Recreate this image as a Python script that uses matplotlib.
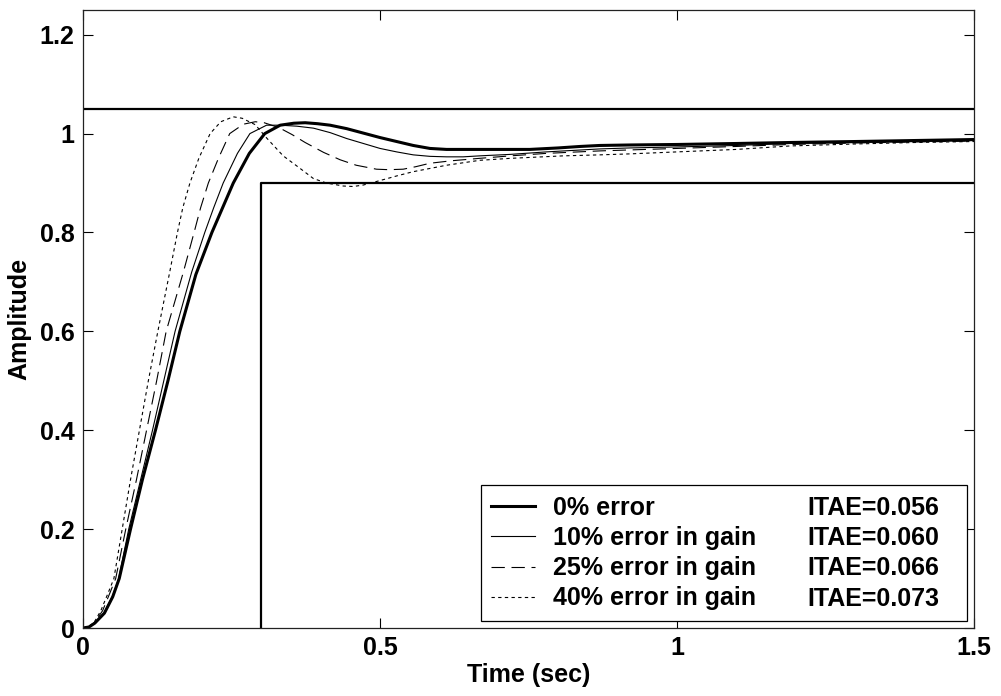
import matplotlib
matplotlib.use("Agg")
import matplotlib.pyplot as plt

# ---------------- data ----------------
t0 = [0, 0.01, 0.02, 0.036, 0.05, 0.061, 0.08, 0.10, 0.122, 0.143, 0.163, 0.19,
      0.217, 0.235, 0.253, 0.28, 0.306, 0.332, 0.355, 0.374, 0.395, 0.416, 0.444,
      0.472, 0.50, 0.528, 0.556, 0.584, 0.612, 0.640, 0.70, 0.752, 0.80, 0.837,
      0.87, 0.921, 1.0, 1.1, 1.19, 1.3, 1.4, 1.5]
y0 = [0, 0.002, 0.01, 0.03, 0.063, 0.10, 0.20, 0.30, 0.40, 0.50, 0.60, 0.715,
      0.80, 0.85, 0.90, 0.96, 1.00, 1.017, 1.021, 1.022, 1.020, 1.017, 1.010,
      1.001, 0.992, 0.984, 0.976, 0.970, 0.968, 0.968, 0.968, 0.968, 0.971, 0.974,
      0.976, 0.977, 0.978, 0.980, 0.982, 0.984, 0.986, 0.988]

t10 = [0, 0.01, 0.02, 0.035, 0.05, 0.06, 0.077, 0.097, 0.117, 0.136, 0.155, 0.183,
       0.205, 0.22, 0.236, 0.26, 0.281, 0.309, 0.332, 0.36, 0.388, 0.416, 0.444,
       0.472, 0.5, 0.528, 0.556, 0.584, 0.612, 0.64, 0.668, 0.72, 0.78, 0.87,
       0.921, 1.0, 1.1, 1.19, 1.3, 1.4, 1.5]
y10 = [0, 0.002, 0.01, 0.03, 0.065, 0.10, 0.20, 0.30, 0.40, 0.50, 0.60, 0.72,
       0.80, 0.85, 0.90, 0.96, 1.00, 1.017, 1.017, 1.015, 1.011, 1.002, 0.990,
       0.980, 0.970, 0.963, 0.957, 0.954, 0.953, 0.953, 0.955, 0.958, 0.963, 0.969,
       0.971, 0.973, 0.976, 0.980, 0.982, 0.984, 0.986]

t25 = [0, 0.01, 0.02, 0.033, 0.045, 0.055, 0.072, 0.09, 0.107, 0.124, 0.14, 0.169,
       0.187, 0.198, 0.211, 0.228, 0.247, 0.27, 0.29, 0.305, 0.33, 0.352, 0.374,
       0.405, 0.433, 0.46, 0.494, 0.515, 0.539, 0.56, 0.584, 0.62, 0.668, 0.72,
       0.78, 0.87, 0.921, 1.0, 1.1, 1.19, 1.3, 1.4, 1.5]
y25 = [0, 0.002, 0.012, 0.035, 0.07, 0.10, 0.20, 0.30, 0.40, 0.50, 0.60, 0.72,
       0.80, 0.85, 0.90, 0.95, 1.00, 1.019, 1.024, 1.022, 1.012, 0.998, 0.982,
       0.962, 0.947, 0.936, 0.928, 0.927, 0.928, 0.933, 0.940, 0.945, 0.950, 0.955,
       0.960, 0.965, 0.967, 0.970, 0.974, 0.978, 0.981, 0.983, 0.985]

t40 = [0, 0.01, 0.02, 0.03, 0.042, 0.052, 0.066, 0.08, 0.095, 0.11, 0.126, 0.146,
       0.159, 0.168, 0.18, 0.195, 0.214, 0.232, 0.253, 0.268, 0.29, 0.31, 0.337,
       0.365, 0.388, 0.41, 0.438, 0.455, 0.472, 0.506, 0.53, 0.556, 0.612, 0.668,
       0.72, 0.809, 0.87, 0.921, 1.0, 1.1, 1.19, 1.3, 1.4, 1.5]
y40 = [0, 0.003, 0.014, 0.035, 0.07, 0.10, 0.20, 0.30, 0.40, 0.50, 0.60, 0.72,
       0.80, 0.85, 0.90, 0.95, 1.00, 1.024, 1.034, 1.031, 1.018, 0.99, 0.955,
       0.93, 0.909, 0.90, 0.894, 0.893, 0.896, 0.907, 0.915, 0.923, 0.936, 0.946,
       0.950, 0.955, 0.957, 0.959, 0.963, 0.968, 0.975, 0.979, 0.982, 0.984]

labels = ["0% error", "10% error in gain", "25% error in gain", "40% error in gain"]
itae = ["ITAE=0.056", "ITAE=0.060", "ITAE=0.066", "ITAE=0.073"]

# constraint boundaries
upper_t = [0, 1.5]
upper_y = [1.05, 1.05]
lower_t = [0.3, 0.3, 1.5]
lower_y = [0, 0.9, 0.9]

xticks = [0, 0.5, 1, 1.5]
xticklabels = ["0", "0.5", "1", "1.5"]
yticks = [0, 0.2, 0.4, 0.6, 0.8, 1, 1.2]
yticklabels = ["0", "0.2", "0.4", "0.6", "0.8", "1", "1.2"]

# ---------------- figure ----------------
plt.rcParams['font.family'] = ['Liberation Sans', 'DejaVu Sans']
plt.rcParams['font.weight'] = 'bold'
FS = 18

fig = plt.figure(figsize=(10.01, 6.96), dpi=100)
ax = fig.add_axes([83/1001, 1-628/696, (974-83)/1001, (628-10)/696])

l0, = ax.plot(t0, y0, color='black', lw=2.2, solid_joinstyle='round')
l10, = ax.plot(t10, y10, color='black', lw=0.8)
l25, = ax.plot(t25, y25, color='black', lw=0.8, dashes=(12, 6))
l40, = ax.plot(t40, y40, color='black', lw=0.8, dashes=(3, 3))

ax.plot(upper_t, upper_y, color='black', lw=1.6)
ax.plot(lower_t, lower_y, color='black', lw=1.6)

ax.set_xlim(0, 1.5)
ax.set_ylim(0, 1.25)
ax.set_xticks(xticks)
ax.set_xticklabels(xticklabels)
ax.set_yticks(yticks)
ax.set_yticklabels(yticklabels)
ax.tick_params(direction='in', length=7, width=0.8, top=True, right=True,
               labelsize=FS, pad=6)
for s in ax.spines.values():
    s.set_linewidth(0.9)
    s.set_color('#222222')

ax.set_xlabel("Time (sec)", fontsize=FS, fontweight='bold', labelpad=2)
ax.set_ylabel("Amplitude", fontsize=FS, fontweight='bold', labelpad=6)

x0 = (481-83)/891
x1 = (967-83)/891
yb = (628-621)/618
leg = ax.legend([l0, l10, l25, l40], labels, loc='lower left',
                bbox_to_anchor=(x0, yb, x1-x0, 0.2), mode='expand',
                fontsize=FS, frameon=True, fancybox=False, framealpha=1,
                edgecolor='black', handlelength=1.75, handletextpad=0.7,
                labelspacing=0.25, borderpad=0.42, borderaxespad=0)
leg.get_frame().set_linewidth(0.9)
leg.set_zorder(5)

fig.canvas.draw()
inv = ax.transAxes.inverted()
xi = (807-83)/891
for txt, lab in zip(leg.get_texts(), itae):
    xd, yd = txt.get_transform().transform(txt.get_position())
    yc = inv.transform((xd, yd))[1]
    ax.text(xi, yc, lab, transform=ax.transAxes, fontsize=FS, fontweight='bold',
            va='baseline', ha='left', zorder=6)

fig.savefig("out.png", dpi=100)
